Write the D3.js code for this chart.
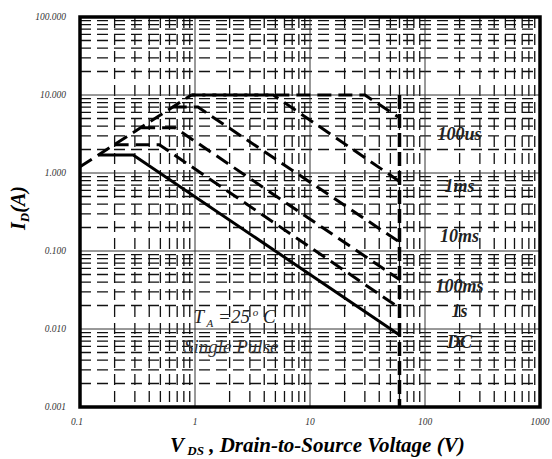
<!DOCTYPE html>
<html lang="en">
<head>
<meta charset="UTF-8">
<title>Safe Operating Area</title>
<style>
    body { margin: 0; background: #fff; }
    svg { display: block; }
    text { font-family: "Liberation Serif", "DejaVu Serif", serif; font-style: italic; }
</style>
</head>
<body>
<svg width="552" height="459"></svg>
<script src="https://cdn.jsdelivr.net/npm/d3@7/dist/d3.min.js"></script>
<script>
// axis ticks
const xTicks = [0.1, 1, 10, 100, 1000];
const xTickLabels = ["0.1", "1", "10", "100", "1000"];
const yTicks = [0.001, 0.01, 0.1, 1, 10, 100];
const yTickLabels = ["0.001", "0.010", "0.100", "1.000", "10.000", "100.000"];

// SOA curves, [V_DS, I_D]
const rdsLimit = [[0.1, 1.2], [0.93, 10]];
const curve100us = [[0.93, 10], [30, 10], [60, 5.1]];
const curve1ms = [[0.93, 10], [4.8, 10], [60, 0.78]];
const curve10ms = [[0.64, 7.0], [1.06, 7.0], [60, 0.13]];
const curve100ms = [[0.34, 3.8], [0.67, 3.8], [60, 0.043]];
const curve1s = [[0.2, 2.3], [0.49, 2.3], [60, 0.0186]];
const curveDC = [[0.145, 1.7], [0.29, 1.7], [60, 0.0084]];
const bvdssLimit = [[60, 10], [60, 0.001]];

const curveNames = ["100us", "1ms", "10ms", "100ms", "1s", "DC"];
const curveLabelI = [2.65, 0.57, 0.13, 0.030, 0.0143, 0.0057];

const svg = d3.select("svg");
const plotL = 80, plotR = 540, plotT = 17, plotB = 407;

const x = d3.scaleLog().domain([0.1, 1000]).range([plotL, plotR]);
const y = d3.scaleLog().domain([0.001, 100]).range([plotB, plotT]);

// minor grid (2..9 of each decade)
const xMinor = [], yMinor = [];
for (let d = 0.1; d < 1000; d *= 10) for (let k = 2; k <= 9; k++) xMinor.push(+(d * k).toPrecision(3));
for (let d = 0.001; d < 100; d *= 10) for (let k = 2; k <= 9; k++) yMinor.push(+(d * k).toPrecision(3));

const grid = svg.append("g");
grid.selectAll(".hminor").data(yMinor).join("line")
    .attr("x1", plotL).attr("x2", plotR)
    .attr("y1", d => y(d)).attr("y2", d => y(d))
    .attr("stroke", "#111").attr("stroke-width", 1.3)
    .attr("stroke-dasharray", "11,6");
grid.selectAll(".vminor").data(xMinor).join("line")
    .attr("y1", plotT).attr("y2", plotB)
    .attr("x1", d => x(d)).attr("x2", d => x(d))
    .attr("stroke", "#111").attr("stroke-width", 1.3)
    .attr("stroke-dasharray", "11,6");
grid.selectAll(".hmajor").data(yTicks).join("line")
    .attr("x1", plotL).attr("x2", plotR)
    .attr("y1", d => y(d)).attr("y2", d => y(d))
    .attr("stroke", "#333").attr("stroke-width", 1);
grid.selectAll(".vmajor").data(xTicks).join("line")
    .attr("y1", plotT).attr("y2", plotB)
    .attr("x1", d => x(d)).attr("x2", d => x(d))
    .attr("stroke", "#333").attr("stroke-width", 1);

// curves
const line = d3.line().x(d => x(d[0])).y(d => y(d[1]));
const dashed = [rdsLimit, curve100us, curve1ms, curve10ms, curve100ms, curve1s];
svg.append("g").selectAll("path").data(dashed).join("path")
    .attr("d", line)
    .attr("fill", "none").attr("stroke", "#000")
    .attr("stroke-width", 3).attr("stroke-dasharray", "14,7")
    .attr("stroke-dashoffset", (d, i) => i === 2 ? 10 : 0);
svg.append("path").attr("d", line(bvdssLimit))
    .attr("fill", "none").attr("stroke", "#000")
    .attr("stroke-width", 3.5).attr("stroke-dasharray", "14,5");
svg.append("path").attr("d", line(curveDC))
    .attr("fill", "none").attr("stroke", "#000").attr("stroke-width", 3);

// frame
svg.append("rect").attr("x", plotL).attr("y", plotT)
    .attr("width", plotR - plotL).attr("height", plotB - plotT)
    .attr("fill", "none").attr("stroke", "#000").attr("stroke-width", 3.5);

// tick labels
svg.append("g").selectAll("text").data(yTicks).join("text")
    .attr("x", 66).attr("y", d => y(d) + 3)
    .attr("text-anchor", "end").attr("font-size", 9.5).attr("fill", "#333")
    .text((d, i) => yTickLabels[i]);
svg.append("g").selectAll("text").data(xTicks).join("text")
    .attr("x", (d, i) => x(d) - (i === 0 ? 3 : 0)).attr("y", 425)
    .attr("text-anchor", "middle").attr("font-size", 9.5).attr("fill", "#333")
    .text((d, i) => xTickLabels[i]);

// curve labels
svg.append("g").selectAll("text").data(curveNames).join("text")
    .attr("x", x(200)).attr("y", (d, i) => y(curveLabelI[i]))
    .attr("text-anchor", "middle").attr("font-size", 18).attr("font-weight", "bold")
    .attr("fill", "#222")
    .text(d => d);

// annotations
const ta = svg.append("text").attr("x", x(0.97)).attr("y", 323)
    .attr("font-size", 19).attr("fill", "#222");
ta.append("tspan").text("T");
ta.append("tspan").attr("font-size", 11).attr("dy", 4).text(" A");
ta.append("tspan").attr("dy", -4).text(" =25");
ta.append("tspan").attr("font-size", 11).attr("dy", -7).text(" o");
ta.append("tspan").attr("dy", 7).text(" C");
svg.append("text").attr("x", 184).attr("y", 353)
    .attr("font-size", 19).attr("fill", "#333").text("Single Pulse");

// axis titles
svg.append("text").attr("transform", "translate(25,208) rotate(-90)")
    .attr("text-anchor", "middle").attr("font-size", 20).attr("font-weight", "bold")
    .html('I<tspan font-size="13" dy="4">D</tspan><tspan dy="-4">(A)</tspan>');
const xt = svg.append("text").attr("x", 170).attr("y", 452)
    .attr("font-size", 21).attr("font-weight", "bold");
xt.append("tspan").text("V");
xt.append("tspan").attr("font-size", 13).attr("dy", 3).text(" DS");
xt.append("tspan").attr("dy", -3).text(" , Drain-to-Source Voltage (V)");
</script>
</body>
</html>
